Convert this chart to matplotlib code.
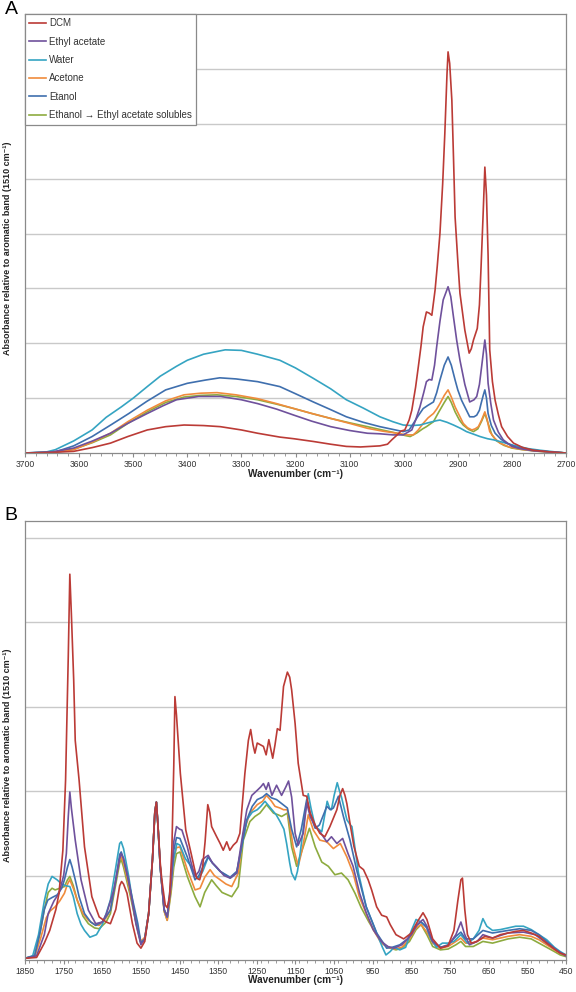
import numpy as np
import matplotlib
matplotlib.use('Agg')
from matplotlib import pyplot as plt
from matplotlib.ticker import MultipleLocator

plt.rcParams['font.family'] = ['Liberation Sans', 'DejaVu Sans']

labels = ['DCM', 'Ethyl acetate', 'Water', 'Acetone', 'Etanol',
          'Ethanol \u2192 Ethyl acetate solubles']
colors = ['#bb3b36', '#6f519c', '#35a4c2', '#f08b3c', '#3f6fae', '#8dab3f']

# ---- panel A: 3700-2700 cm-1 (wavenumber, value) ----
dcm_a_wn = [3700, 3650, 3610, 3575, 3542, 3510, 3474, 3440, 3406, 3370, 3339, 3300, 3270, 3229,
            3203, 3167, 3135, 3106, 3080, 3044, 3030, 3022, 3012, 3005, 2998, 2990, 2985, 2978,
            2973, 2968, 2964, 2958, 2953, 2948, 2942, 2938, 2933, 2928, 2924, 2920, 2918, 2915,
            2911, 2908, 2905, 2900, 2896, 2887, 2879, 2875, 2871, 2864, 2860, 2857, 2853, 2850,
            2847, 2844, 2841, 2836, 2831, 2825, 2819, 2808, 2797, 2780, 2760, 2730, 2700]
dcm_a = [0.0, 0.01, 0.03, 0.1, 0.18, 0.3, 0.42, 0.48, 0.51, 0.5, 0.48, 0.42, 0.36, 0.29,
         0.26, 0.21, 0.16, 0.12, 0.11, 0.13, 0.16, 0.24, 0.33, 0.40, 0.42, 0.6, 0.78, 1.2,
         1.57, 1.95, 2.30, 2.57, 2.55, 2.51, 2.97, 3.4, 4.0, 4.9, 5.82, 6.9, 7.31, 7.1,
         6.43, 5.4, 4.3, 3.5, 2.91, 2.24, 1.82, 1.9, 2.06, 2.27, 2.7, 3.39, 4.4, 5.21,
         4.7, 3.6, 1.88, 1.3, 0.96, 0.7, 0.48, 0.3, 0.18, 0.1, 0.05, 0.02, 0.0]

etoac_a_wn = [3700, 3650, 3610, 3575, 3542, 3510, 3474, 3445, 3420, 3379, 3338, 3300, 3270, 3235,
              3203, 3170, 3135, 3100, 3067, 3044, 3020, 3001, 2985, 2978, 2970, 2963, 2958, 2953,
              2948, 2943, 2939, 2933, 2927, 2918, 2913, 2908, 2902, 2896, 2887, 2878, 2870, 2865,
              2860, 2856, 2850, 2847, 2844, 2839, 2834, 2825, 2816, 2800, 2785, 2760, 2730, 2700]
etoac_a = [0.0, 0.02, 0.09, 0.22, 0.36, 0.54, 0.72, 0.86, 0.97, 1.03, 1.03, 0.97, 0.90, 0.8,
           0.69, 0.58, 0.48, 0.41, 0.36, 0.35, 0.33, 0.33, 0.42, 0.6, 0.84, 1.1, 1.30, 1.34,
           1.33, 1.6, 1.94, 2.4, 2.79, 3.03, 2.85, 2.48, 2.05, 1.69, 1.25, 0.93, 0.97, 1.03,
           1.25, 1.57, 2.06, 1.8, 1.27, 0.9, 0.6, 0.38, 0.24, 0.12, 0.08, 0.04, 0.02, 0.0]

water_a_wn = [3700, 3660, 3644, 3610, 3576, 3550, 3522, 3500, 3474, 3450, 3420, 3400, 3370, 3330,
              3300, 3270, 3229, 3200, 3167, 3135, 3106, 3075, 3044, 3020, 3001, 2985, 2970, 2955,
              2939, 2933, 2920, 2908, 2895, 2884, 2870, 2859, 2845, 2834, 2815, 2797, 2770, 2748,
              2720, 2700]
water_a = [0.0, 0.02, 0.06, 0.22, 0.42, 0.65, 0.84, 1.0, 1.21, 1.40, 1.58, 1.69, 1.8, 1.88,
           1.87, 1.8, 1.69, 1.55, 1.36, 1.17, 0.97, 0.82, 0.66, 0.57, 0.51, 0.5, 0.51, 0.55,
           0.59, 0.60, 0.56, 0.51, 0.45, 0.39, 0.34, 0.30, 0.26, 0.24, 0.19, 0.14, 0.08, 0.05,
           0.02, 0.0]

acetone_a_wn = [3700, 3650, 3610, 3575, 3542, 3510, 3474, 3440, 3406, 3375, 3345, 3310, 3270, 3235,
                3203, 3170, 3135, 3100, 3067, 3040, 3012, 2995, 2982, 2973, 2964, 2955, 2945, 2939,
                2933, 2925, 2918, 2912, 2905, 2897, 2890, 2882, 2874, 2868, 2862, 2856, 2850, 2846,
                2841, 2832, 2822, 2805, 2785, 2760, 2730, 2700]
acetone_a = [0.0, 0.01, 0.06, 0.2, 0.36, 0.57, 0.78, 0.95, 1.06, 1.09, 1.10, 1.06, 0.99, 0.9,
             0.81, 0.72, 0.63, 0.54, 0.45, 0.40, 0.36, 0.33, 0.33, 0.42, 0.54, 0.64, 0.72, 0.8,
             0.90, 1.05, 1.15, 1.02, 0.84, 0.68, 0.54, 0.46, 0.42, 0.44, 0.48, 0.6, 0.75, 0.62,
             0.39, 0.27, 0.18, 0.11, 0.07, 0.04, 0.02, 0.0]

etanol_a_wn = [3700, 3660, 3644, 3610, 3576, 3540, 3508, 3475, 3440, 3400, 3366, 3340, 3310, 3270,
               3229, 3200, 3167, 3135, 3106, 3075, 3044, 3020, 3001, 2990, 2982, 2973, 2964, 2955,
               2945, 2939, 2933, 2925, 2918, 2912, 2905, 2900, 2893, 2885, 2878, 2870, 2865, 2860,
               2857, 2853, 2850, 2847, 2844, 2838, 2831, 2820, 2810, 2790, 2760, 2730, 2700]
etanol_a = [0.0, 0.01, 0.02, 0.13, 0.30, 0.52, 0.72, 0.94, 1.15, 1.27, 1.33, 1.37, 1.35, 1.30,
            1.21, 1.08, 0.93, 0.79, 0.66, 0.56, 0.48, 0.43, 0.39, 0.42, 0.54, 0.68, 0.81, 0.87,
            0.93, 1.1, 1.33, 1.6, 1.75, 1.6, 1.33, 1.15, 0.96, 0.8, 0.66, 0.66, 0.69, 0.78,
            0.90, 1.05, 1.15, 1.0, 0.72, 0.5, 0.36, 0.25, 0.18, 0.1, 0.05, 0.02, 0.0]

eth_etoac_a_wn = [3700, 3650, 3610, 3575, 3542, 3510, 3474, 3440, 3406, 3375, 3345, 3310, 3270, 3235,
                  3203, 3170, 3135, 3100, 3067, 3040, 3012, 2998, 2988, 2975, 2965, 2958, 2945, 2935,
                  2925, 2918, 2912, 2905, 2897, 2890, 2880, 2871, 2863, 2856, 2850, 2846, 2837, 2828,
                  2815, 2800, 2780, 2750, 2700]
eth_etoac_a = [0.0, 0.01, 0.07, 0.19, 0.33, 0.54, 0.75, 0.92, 1.02, 1.05, 1.06, 1.03, 0.97, 0.89,
               0.81, 0.72, 0.63, 0.55, 0.48, 0.42, 0.36, 0.32, 0.30, 0.37, 0.44, 0.48, 0.57, 0.75,
               0.92, 1.03, 0.92, 0.75, 0.6, 0.51, 0.43, 0.39, 0.44, 0.58, 0.72, 0.6, 0.33, 0.22,
               0.14, 0.09, 0.06, 0.03, 0.0]

# ---- panel B: 1850-450 cm-1 ----
dcm_b_wn = [1850, 1820, 1800, 1786, 1770, 1762, 1752, 1745, 1738, 1734, 1730, 1724, 1720, 1710,
            1696, 1677, 1658, 1640, 1629, 1615, 1605, 1600, 1595, 1586, 1572, 1560, 1550, 1540,
            1530, 1520, 1514, 1510, 1506, 1500, 1496, 1487, 1482, 1476, 1470, 1465, 1462, 1458,
            1448, 1434, 1420, 1406, 1398, 1391, 1384, 1377, 1372, 1367, 1354, 1345, 1337, 1328,
            1320, 1311, 1302, 1294, 1281, 1272, 1266, 1260, 1255, 1249, 1241, 1233, 1226, 1219,
            1209, 1203, 1197, 1190, 1181, 1171, 1165, 1160, 1151, 1143, 1130, 1121, 1112, 1099,
            1087, 1074, 1061, 1043, 1035, 1028, 1022, 1017, 1009, 999, 985, 974, 962, 953,
            940, 927, 914, 905, 890, 870, 850, 835, 820, 810, 795, 775, 755, 740,
            730, 722, 718, 712, 705, 695, 680, 660, 640, 620, 600, 580, 560, 540,
            520, 500, 480, 465, 450]
dcm_b = [0.02, 0.03, 0.2, 0.35, 0.6, 0.79, 1.3, 2.13, 3.6, 4.57, 4.1, 3.32, 2.6, 2.13,
         1.34, 0.75, 0.51, 0.45, 0.43, 0.6, 0.88, 0.93, 0.9, 0.79, 0.43, 0.2, 0.14, 0.22,
         0.55, 1.2, 1.75, 1.87, 1.6, 1.15, 0.95, 0.65, 0.62, 0.75, 1.3, 2.3, 3.12, 2.9,
         2.21, 1.54, 1.26, 0.97, 0.95, 1.07, 1.4, 1.84, 1.75, 1.58, 1.46, 1.38, 1.30, 1.40,
         1.30, 1.36, 1.40, 1.50, 2.21, 2.6, 2.73, 2.55, 2.45, 2.57, 2.55, 2.53, 2.43, 2.61,
         2.39, 2.55, 2.74, 2.72, 3.24, 3.41, 3.35, 3.20, 2.80, 2.33, 1.95, 1.94, 1.74, 1.60,
         1.50, 1.46, 1.58, 1.78, 1.95, 2.03, 1.95, 1.85, 1.62, 1.35, 1.11, 1.07, 0.95, 0.83,
         0.63, 0.53, 0.51, 0.42, 0.30, 0.25, 0.32, 0.45, 0.56, 0.48, 0.25, 0.14, 0.17, 0.35,
         0.7, 0.95, 0.97, 0.6, 0.3, 0.2, 0.22, 0.28, 0.26, 0.3, 0.32, 0.34, 0.35, 0.32,
         0.28, 0.2, 0.13, 0.08, 0.06]

etoac_b_wn = [1850, 1820, 1800, 1790, 1775, 1762, 1750, 1743, 1738, 1734, 1730, 1720, 1705, 1686,
              1667, 1650, 1639, 1620, 1605, 1601, 1595, 1582, 1563, 1550, 1540, 1530, 1520, 1514,
              1510, 1506, 1500, 1490, 1482, 1472, 1465, 1458, 1450, 1444, 1430, 1420, 1410, 1400,
              1391, 1376, 1365, 1354, 1335, 1319, 1302, 1289, 1276, 1263, 1249, 1240, 1233, 1226,
              1220, 1211, 1199, 1186, 1175, 1168, 1160, 1151, 1143, 1130, 1121, 1112, 1099, 1087,
              1069, 1057, 1043, 1028, 1014, 1001, 984, 967, 949, 928, 911, 895, 875, 850,
              835, 820, 810, 795, 775, 755, 735, 722, 712, 700, 680, 665, 640, 600,
              560, 530, 500, 470, 450]
etoac_b = [0.02, 0.05, 0.3, 0.55, 0.7, 0.79, 1.0, 1.26, 1.7, 1.99, 1.8, 1.42, 0.95, 0.59,
           0.43, 0.45, 0.55, 0.83, 1.2, 1.26, 1.2, 0.95, 0.43, 0.18, 0.25, 0.55, 1.2, 1.75,
           1.87, 1.6, 1.1, 0.6, 0.51, 0.9, 1.4, 1.58, 1.55, 1.54, 1.34, 1.15, 0.99, 1.05,
           1.19, 1.24, 1.15, 1.10, 1.0, 0.97, 1.03, 1.42, 1.78, 1.95, 2.01, 2.05, 2.09, 2.02,
           2.10, 1.95, 2.07, 1.95, 2.05, 2.12, 1.93, 1.50, 1.36, 1.50, 1.86, 1.70, 1.58, 1.52,
           1.40, 1.46, 1.38, 1.44, 1.26, 1.11, 0.79, 0.56, 0.36, 0.22, 0.16, 0.14, 0.18, 0.3,
           0.42, 0.48, 0.4, 0.22, 0.15, 0.17, 0.3, 0.45, 0.3, 0.18, 0.22, 0.3, 0.26, 0.32,
           0.33, 0.3, 0.2, 0.1, 0.05]

water_b_wn = [1850, 1830, 1815, 1800, 1790, 1780, 1767, 1755, 1745, 1734, 1725, 1715, 1705, 1696,
              1682, 1665, 1650, 1640, 1629, 1615, 1605, 1601, 1595, 1582, 1565, 1550, 1540, 1530,
              1520, 1514, 1510, 1506, 1500, 1490, 1482, 1472, 1465, 1457, 1449, 1435, 1420, 1410,
              1400, 1390, 1376, 1365, 1345, 1319, 1302, 1289, 1276, 1262, 1249, 1240, 1229, 1220,
              1211, 1200, 1190, 1180, 1173, 1165, 1160, 1151, 1145, 1138, 1125, 1117, 1110, 1099,
              1090, 1082, 1075, 1068, 1062, 1057, 1050, 1042, 1036, 1031, 1017, 1008, 1004, 999,
              987, 967, 940, 925, 916, 905, 895, 880, 865, 850, 838, 825, 812, 800,
              785, 770, 755, 740, 722, 705, 690, 675, 665, 655, 640, 620, 600, 580,
              560, 540, 520, 500, 480, 465, 450]
water_b = [0.02, 0.05, 0.3, 0.7, 0.9, 0.99, 0.95, 0.9, 0.88, 0.87, 0.75, 0.55, 0.42, 0.35,
           0.27, 0.3, 0.42, 0.55, 0.71, 1.1, 1.38, 1.40, 1.32, 1.0, 0.5, 0.2, 0.25, 0.55,
           1.2, 1.75, 1.87, 1.6, 1.1, 0.6, 0.51, 0.9, 1.2, 1.38, 1.36, 1.2, 1.11, 1.0,
           0.97, 1.05, 1.22, 1.15, 1.05, 0.97, 1.03, 1.35, 1.66, 1.75, 1.78, 1.82, 1.88, 1.83,
           1.78, 1.72, 1.64, 1.55, 1.38, 1.15, 1.03, 0.95, 1.05, 1.26, 1.74, 1.97, 1.8, 1.58,
           1.55, 1.52, 1.7, 1.88, 1.8, 1.78, 1.95, 2.10, 2.0, 1.93, 1.66, 1.60, 1.58, 1.42,
           1.03, 0.63, 0.32, 0.15, 0.06, 0.1, 0.15, 0.12, 0.15, 0.35, 0.48, 0.45, 0.4, 0.25,
           0.15, 0.2, 0.2, 0.22, 0.3, 0.2, 0.25, 0.35, 0.49, 0.4, 0.35, 0.36, 0.38, 0.4,
           0.4, 0.36, 0.3, 0.24, 0.15, 0.1, 0.06]

acetone_b_wn = [1850, 1825, 1810, 1795, 1785, 1772, 1760, 1748, 1740, 1734, 1725, 1715, 1700, 1686,
                1670, 1658, 1640, 1629, 1615, 1605, 1601, 1595, 1577, 1560, 1550, 1540, 1530, 1520,
                1514, 1510, 1506, 1500, 1490, 1482, 1472, 1465, 1458, 1449, 1430, 1410, 1397, 1385,
                1371, 1360, 1345, 1330, 1315, 1298, 1285, 1268, 1249, 1235, 1225, 1212, 1203, 1190,
                1181, 1171, 1156, 1143, 1133, 1125, 1117, 1104, 1087, 1069, 1052, 1034, 1017, 1001,
                985, 967, 949, 928, 910, 895, 875, 855, 838, 825, 810, 795, 775, 755,
                735, 722, 710, 690, 665, 640, 600, 570, 540, 520, 500, 480, 465, 450]
acetone_b = [0.02, 0.04, 0.25, 0.5, 0.58, 0.63, 0.7, 0.79, 0.9, 0.95, 0.85, 0.71, 0.55, 0.47,
             0.42, 0.41, 0.5, 0.59, 0.95, 1.2, 1.22, 1.15, 0.79, 0.4, 0.22, 0.27, 0.55, 1.2,
             1.75, 1.87, 1.6, 1.1, 0.58, 0.47, 0.85, 1.2, 1.33, 1.34, 1.07, 0.83, 0.85, 0.98,
             1.07, 1.0, 0.95, 0.9, 0.87, 1.03, 1.50, 1.74, 1.84, 1.88, 1.95, 1.88, 1.82, 1.80,
             1.78, 1.78, 1.34, 1.11, 1.3, 1.50, 1.72, 1.54, 1.42, 1.40, 1.32, 1.38, 1.22, 1.03,
             0.75, 0.55, 0.36, 0.2, 0.15, 0.13, 0.15, 0.25, 0.38, 0.42, 0.33, 0.2, 0.14, 0.16,
             0.22, 0.26, 0.2, 0.2, 0.26, 0.24, 0.28, 0.3, 0.28, 0.24, 0.18, 0.12, 0.08, 0.05]

etanol_b_wn = [1850, 1825, 1810, 1800, 1791, 1780, 1767, 1755, 1748, 1740, 1734, 1728, 1720, 1710,
               1696, 1680, 1667, 1650, 1629, 1615, 1605, 1601, 1595, 1577, 1558, 1550, 1540, 1530,
               1520, 1514, 1510, 1506, 1500, 1490, 1482, 1472, 1465, 1458, 1449, 1430, 1410, 1400,
               1390, 1376, 1365, 1345, 1319, 1302, 1289, 1276, 1262, 1249, 1235, 1225, 1212, 1199,
               1185, 1171, 1160, 1147, 1135, 1121, 1110, 1099, 1088, 1075, 1069, 1060, 1052, 1039,
               1026, 1009, 992, 967, 940, 914, 900, 880, 860, 840, 825, 810, 795, 775,
               755, 735, 722, 710, 690, 665, 640, 600, 570, 540, 520, 500, 480, 465, 450]
etanol_b = [0.02, 0.05, 0.35, 0.6, 0.71, 0.74, 0.77, 0.85, 0.95, 1.1, 1.19, 1.1, 0.95, 0.75,
            0.55, 0.45, 0.41, 0.45, 0.59, 0.95, 1.25, 1.28, 1.2, 0.83, 0.43, 0.2, 0.25, 0.55,
            1.2, 1.75, 1.87, 1.6, 1.1, 0.6, 0.51, 0.95, 1.3, 1.45, 1.44, 1.22, 0.95, 1.0,
            1.1, 1.22, 1.15, 1.05, 0.98, 1.05, 1.35, 1.66, 1.82, 1.90, 1.93, 1.97, 1.92, 1.90,
            1.85, 1.80, 1.55, 1.34, 1.55, 1.90, 1.7, 1.56, 1.6, 1.75, 1.82, 1.78, 1.80, 1.94,
            1.70, 1.42, 1.07, 0.63, 0.32, 0.14, 0.15, 0.18, 0.25, 0.4, 0.45, 0.38, 0.22, 0.15,
            0.18, 0.28, 0.33, 0.25, 0.25, 0.35, 0.32, 0.35, 0.37, 0.35, 0.3, 0.22, 0.14, 0.09, 0.05]

eth_etoac_b_wn = [1850, 1825, 1812, 1800, 1790, 1780, 1772, 1760, 1748, 1740, 1734, 1725, 1715, 1700,
                  1686, 1670, 1658, 1640, 1629, 1615, 1605, 1601, 1595, 1577, 1560, 1550, 1540, 1530,
                  1520, 1514, 1510, 1506, 1500, 1490, 1482, 1472, 1465, 1458, 1449, 1430, 1410, 1397,
                  1385, 1367, 1355, 1340, 1315, 1298, 1285, 1268, 1255, 1242, 1225, 1207, 1195, 1186,
                  1171, 1160, 1147, 1130, 1114, 1099, 1082, 1065, 1048, 1031, 1014, 996, 980, 960,
                  940, 920, 905, 890, 875, 855, 838, 825, 810, 795, 775, 755, 735, 722,
                  710, 690, 665, 640, 600, 570, 540, 520, 500, 480, 465, 450]
eth_etoac_b = [0.02, 0.05, 0.3, 0.6, 0.8, 0.85, 0.83, 0.85, 0.87, 0.95, 0.99, 0.88, 0.71, 0.52,
               0.43, 0.38, 0.37, 0.45, 0.55, 0.9, 1.15, 1.19, 1.1, 0.75, 0.38, 0.2, 0.25, 0.55,
               1.2, 1.75, 1.87, 1.6, 1.1, 0.58, 0.47, 0.8, 1.1, 1.26, 1.28, 0.99, 0.75, 0.63,
               0.8, 0.95, 0.88, 0.8, 0.75, 0.87, 1.42, 1.64, 1.70, 1.74, 1.84, 1.74, 1.72, 1.70,
               1.74, 1.34, 1.11, 1.34, 1.56, 1.34, 1.16, 1.11, 1.01, 1.03, 0.95, 0.79, 0.62, 0.45,
               0.3, 0.18, 0.14, 0.12, 0.14, 0.22, 0.36, 0.42, 0.3, 0.16, 0.12, 0.13, 0.18, 0.22,
               0.16, 0.16, 0.22, 0.2, 0.25, 0.27, 0.25, 0.2, 0.15, 0.1, 0.06, 0.04]

series_a = [(dcm_a_wn, dcm_a), (etoac_a_wn, etoac_a), (water_a_wn, water_a),
            (acetone_a_wn, acetone_a), (etanol_a_wn, etanol_a), (eth_etoac_a_wn, eth_etoac_a)]
series_b = [(dcm_b_wn, dcm_b), (etoac_b_wn, etoac_b), (water_b_wn, water_b),
            (acetone_b_wn, acetone_b), (etanol_b_wn, etanol_b), (eth_etoac_b_wn, eth_etoac_b)]

# draw order: green under, red on top like the original
order = [5, 3, 2, 4, 1, 0]

grid_c = '#c9c9c9'
spine_c = '#8a8a8a'
ylab = 'Absorbance relative to aromatic band (1510 cm\u207b\u00b9)'
xlab = 'Wavenumber (cm\u207b\u00b9)'


def style_axes(ax, xmax, xmin, ytop, nlines):
    ax.set_xlim(xmax, xmin)
    ax.set_ylim(0, ytop)
    ax.set_yticks(np.arange(1, nlines + 1))
    ax.set_yticklabels([])
    ax.tick_params(axis='y', length=0)
    ax.grid(axis='y', color=grid_c, lw=1.0)
    ax.set_axisbelow(True)
    for s in ax.spines.values():
        s.set_color(spine_c)
        s.set_linewidth(0.9)
    ax.set_xticks(np.arange(xmax, xmin - 1, -100))
    ax.xaxis.set_minor_locator(MultipleLocator(20))
    ax.tick_params(axis='x', which='major', length=3, color=spine_c, pad=2,
                   labelsize=6.2, labelcolor='#333333')
    ax.tick_params(axis='x', which='minor', length=2, color=spine_c)


fig = plt.figure(figsize=(5.76, 9.92), dpi=100)
ax_a = fig.add_axes([25 / 576, 1 - 453 / 992, 541 / 576, 439 / 992])
ax_b = fig.add_axes([25 / 576, 1 - 960 / 992, 541 / 576, 439 / 992])

for i in order:
    wn, v = series_a[i]
    ax_a.plot(wn, v, color=colors[i], lw=1.2, label=labels[i])
    wn, v = series_b[i]
    ax_b.plot(wn, v, color=colors[i], lw=1.2)

style_axes(ax_a, 3700, 2700, 8, 7)
style_axes(ax_b, 1850, 450, 5.2, 5)

handles, labs = ax_a.get_legend_handles_labels()
hmap = dict(zip(labs, handles))
leg = ax_a.legend([hmap[l] for l in labels], labels, loc='upper left', bbox_to_anchor=(0, 1),
                  borderaxespad=0, fontsize=7, frameon=True, fancybox=False, framealpha=1,
                  edgecolor=spine_c, handlelength=1.7, handletextpad=0.3, labelspacing=0.86,
                  borderpad=0.45)
leg.get_frame().set_linewidth(0.9)
for t in leg.get_texts():
    t.set_color('#333333')

for ycen in [248, 755]:
    fig.text(8 / 576, 1 - ycen / 992, ylab, rotation=90, ha='center', va='center',
             fontsize=6.5, fontweight='bold', color='#222222')
fig.text(296 / 576, 1 - 474 / 992, xlab, ha='center', va='center', fontsize=7.2,
         fontweight='bold', color='#222222')
fig.text(296 / 576, 1 - 980 / 992, xlab, ha='center', va='center', fontsize=7.2,
         fontweight='bold', color='#222222')

fig.text(11 / 576, 1 - 10 / 992, 'A', ha='center', va='center', fontsize=14)
fig.text(11 / 576, 1 - 516 / 992, 'B', ha='center', va='center', fontsize=14)

fig.savefig('out.png', dpi=100)
